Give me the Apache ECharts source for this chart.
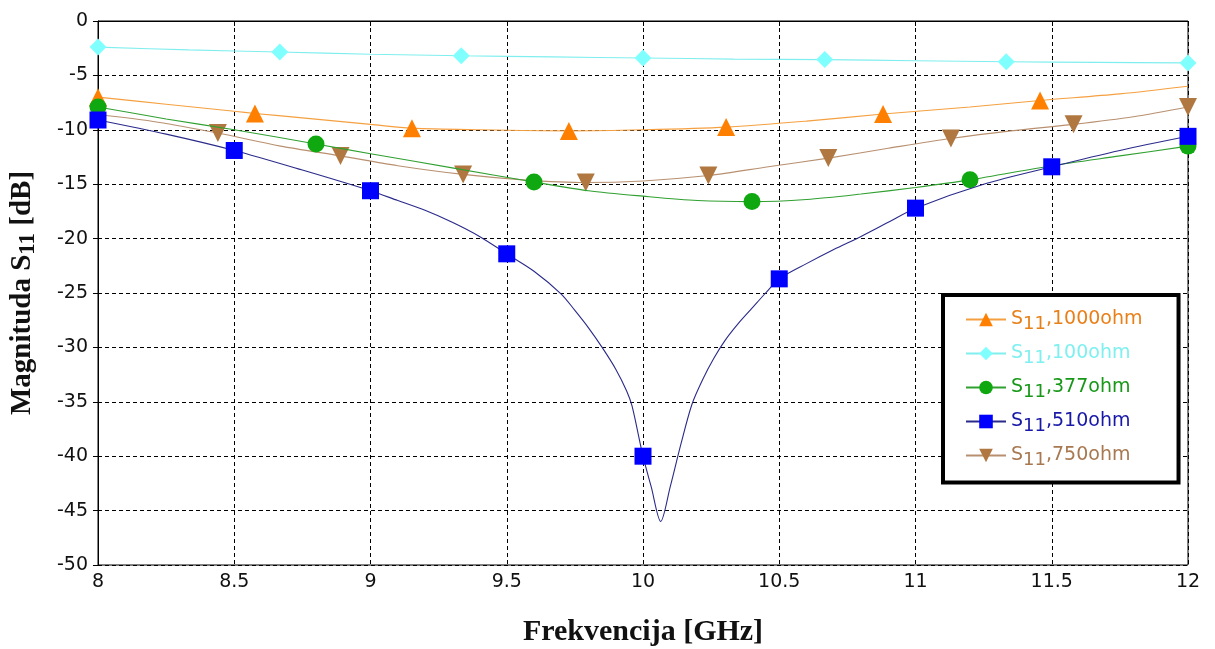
<!DOCTYPE html>
<html><head><meta charset="utf-8">
<script src="https://cdn.jsdelivr.net/npm/echarts@6/dist/echarts.min.js"></script>
<style>html,body{margin:0;padding:0;background:#fff}#c{width:1215px;height:649px}</style>
</head><body><div id="c"></div>
<script>
// ---- data (frequency in GHz, S11 in dB) ----
const freq1000 = [8, 8.25, 8.5, 8.576, 8.75, 9, 9.152, 9.4, 9.728, 10, 10.305, 10.6, 10.881, 11.2, 11.457, 11.75, 12];
const s1000    = [-7.0, -7.65, -8.3, -8.5, -8.9, -9.5, -9.85, -10.0, -10.1, -10.0, -9.75, -9.2, -8.55, -7.9, -7.3, -6.7, -6.0];
const mark1000 = [8, 8.576, 9.152, 9.728, 10.305, 10.881, 11.457];

const freq100 = [8, 8.333, 8.667, 9, 9.333, 9.667, 10, 10.333, 10.667, 11, 11.333, 11.667, 12];
const s100    = [-2.4, -2.65, -2.85, -3.05, -3.2, -3.3, -3.4, -3.5, -3.55, -3.65, -3.75, -3.8, -3.85];
const mark100 = [8, 8.667, 9.333, 10, 10.667, 11.333, 12];

const freq377 = [8, 8.25, 8.5, 8.8, 9, 9.3, 9.6, 9.8, 10, 10.2, 10.4, 10.6, 10.8, 11, 11.2, 11.5, 11.75, 12];
const s377    = [-7.9, -9.0, -10.0, -11.3, -12.2, -13.5, -14.8, -15.6, -16.1, -16.5, -16.6, -16.4, -15.9, -15.3, -14.6, -13.3, -12.4, -11.5];
const mark377 = [8, 8.8, 9.6, 10.4, 11.2, 12];

const freq510 = [8, 8.25, 8.5, 8.75, 9, 9.1, 9.2, 9.3, 9.4, 9.5, 9.6, 9.7, 9.75, 9.8, 9.85, 9.9, 9.94, 9.96, 10, 10.03, 10.065, 10.1, 10.14, 10.18, 10.22, 10.26, 10.3, 10.35, 10.4, 10.45, 10.5, 10.6, 10.7, 10.8, 10.9, 11, 11.25, 11.5, 11.75, 12];
const s510    = [-9.1, -10.4, -11.9, -13.7, -15.6, -16.5, -17.4, -18.5, -19.8, -21.4, -23.0, -25.1, -26.6, -28.2, -30.0, -32.0, -34.0, -35.4, -40.0, -42.8, -46.0, -42.8, -38.8, -35.2, -32.9, -31.0, -29.4, -27.8, -26.4, -25.0, -23.7, -22.3, -21.0, -19.8, -18.5, -17.2, -15.0, -13.4, -11.9, -10.6];
const mark510 = [8, 8.5, 9, 9.5, 10, 10.5, 11, 11.5, 12];

const freq750 = [8, 8.22, 8.44, 8.67, 8.89, 9.1, 9.34, 9.56, 9.79, 10, 10.24, 10.46, 10.68, 10.9, 11.13, 11.35, 11.58, 11.8, 12];
const s750    = [-8.6, -9.3, -10.3, -11.5, -12.4, -13.3, -14.1, -14.6, -14.85, -14.7, -14.2, -13.4, -12.6, -11.7, -10.8, -10.1, -9.5, -8.8, -7.9];
const mark750 = [8, 8.44, 8.89, 9.34, 9.79, 10.24, 10.68, 11.13, 11.58, 12];

const seriesNames = ['S11,1000ohm', 'S11,100ohm', 'S11,377ohm', 'S11,510ohm', 'S11,750ohm'];
const xTicks = {min: 8, max: 12, step: 0.5};
const yTicks = {min: -50, max: 0, step: 5};

// ---- chart ----
const FONT = 'DejaVu Sans';
const SERIF = 'Liberation Serif';
const invTri = 'path://M0,0 L10,0 L5,9 Z';

function build(name, xs, ys, marks, symbol, size, markerColor, lineColor, z) {
  const data = xs.map((x, i) => marks.indexOf(x) >= 0
    ? {value: [x, ys[i]]}
    : {value: [x, ys[i]], symbol: 'none'});
  return {
    type: 'line', name, data, smooth: 0.3, symbol, symbolSize: size,
    showAllSymbol: true, z,
    lineStyle: {color: lineColor, width: 1.1},
    itemStyle: {color: markerColor, borderWidth: 0},
    emphasis: {disabled: true}
  };
}

const textColors = ['#E8801A', '#7FEFEF', '#189818', '#1818A8', '#A87850'];

const chart = echarts.init(document.getElementById('c'), null, {renderer: 'canvas'});
chart.setOption({
  animation: false,
  backgroundColor: '#fff',
  grid: {left: 98, right: 27, top: 21, bottom: 84, show: true, borderColor: '#000', borderWidth: 1,
         containLabel: false, outerBoundsMode: 'none'},
  xAxis: {
    type: 'value', min: xTicks.min, max: xTicks.max, interval: xTicks.step,
    name: 'Frekvencija [GHz]', nameLocation: 'middle', nameGap: 52,
    nameTextStyle: {fontFamily: SERIF, fontWeight: 'bold', fontSize: 30, color: '#111'},
    axisLine: {lineStyle: {color: '#000', width: 1}},
    axisTick: {show: true, length: 5, lineStyle: {color: '#000'}},
    axisLabel: {fontFamily: FONT, fontSize: 19, color: '#111', margin: 8},
    splitLine: {show: true, lineStyle: {type: [4, 3], color: '#000', width: 1}}
  },
  yAxis: {
    type: 'value', min: yTicks.min, max: yTicks.max, interval: yTicks.step,
    name: '{a|Magnituda S}{b|11}{a| [dB]}', nameLocation: 'middle', nameGap: 58, nameRotate: 90,
    nameTextStyle: {
      color: '#111',
      rich: {
        a: {fontFamily: SERIF, fontWeight: 'bold', fontSize: 29, color: '#111'},
        b: {fontFamily: SERIF, fontWeight: 'bold', fontSize: 23, color: '#111', padding: [12, 0, 0, 0]}
      }
    },
    axisLine: {show: true, lineStyle: {color: '#000', width: 1}},
    axisTick: {show: true, length: 5, lineStyle: {color: '#000'}},
    axisLabel: {fontFamily: FONT, fontSize: 19, color: '#111', margin: 10},
    splitLine: {show: true, lineStyle: {type: [4, 3], color: '#000', width: 1}}
  },
  legend: {
    orient: 'vertical', left: 943, top: 295,
    backgroundColor: '#fff', borderColor: '#000', borderWidth: 4,
    padding: [15, 36, 13, 22], itemGap: 10.5, itemWidth: 40, itemHeight: 17,
    data: seriesNames.map((n, i) => ({name: n, textStyle: {color: textColors[i]}})),
    formatter: n => '{a|S}{b|11}{a|' + n.slice(3) + '}',
    textStyle: {
      fontFamily: FONT, fontSize: 19,
      rich: {
        a: {fontFamily: FONT, fontSize: 19},
        b: {fontFamily: FONT, fontSize: 18, padding: [10, 0, 0, 0]}
      }
    }
  },
  series: [
    build(seriesNames[0], freq1000, s1000, mark1000, 'triangle', 18, '#FF8000', '#F5A040', 5),
    build(seriesNames[1], freq100, s100, mark100, 'diamond', 17, '#80FFFF', '#80EEEE', 4),
    build(seriesNames[2], freq377, s377, mark377, 'circle', 17, '#10A810', '#30A030', 6),
    build(seriesNames[3], freq510, s510, mark510, 'rect', 17, '#0000FF', '#2A2A8A', 7),
    build(seriesNames[4], freq750, s750, mark750, invTri, 18, '#B07840', '#B89070', 5)
  ]
});
</script>
</body></html>
